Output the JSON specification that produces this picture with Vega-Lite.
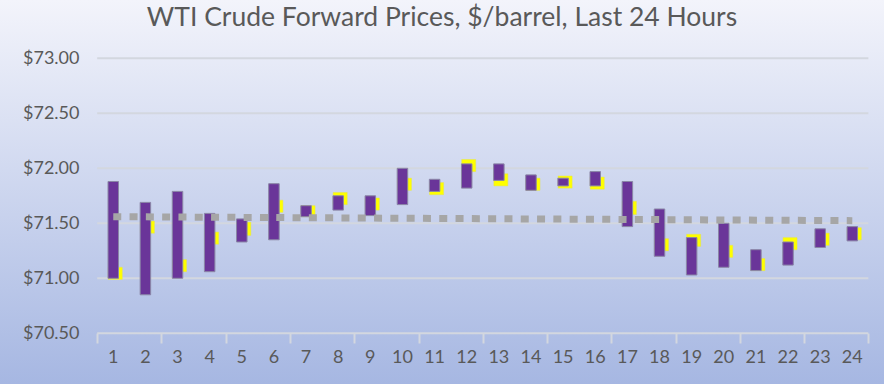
{
  "$schema": "https://vega.github.io/schema/vega-lite/v6.json",
  "width": 884,
  "height": 384,
  "autosize": "none",
  "padding": 0,
  "background": "#c9d3ec",
  "title": {
    "text": "WTI Crude Forward Prices, $/barrel, Last 24 Hours",
    "font": "Lato",
    "fontSize": 26.5,
    "fontWeight": "normal",
    "color": "#595959",
    "anchor": "middle",
    "offset": -31
  },
  "config": {
    "view": {
      "stroke": null,
      "fill": {
        "gradient": "linear",
        "x1": 0, "y1": 0, "x2": 0, "y2": 1,
        "stops": [
          {"offset": 0, "color": "#f3f4fb"},
          {"offset": 1, "color": "#a6b7e2"}
        ]
      }
    },
    "axis": {"labelFont": "Lato", "labelColor": "#595959", "labelFontSize": 18}
  },
  "datasets": {
    "bars": [
      {"hour": 1, "low": 71.00, "high": 71.88, "ylow": 70.99, "yhigh": 71.10},
      {"hour": 2, "low": 70.85, "high": 71.69, "ylow": 71.41, "yhigh": 71.52},
      {"hour": 3, "low": 71.00, "high": 71.79, "ylow": 71.06, "yhigh": 71.17},
      {"hour": 4, "low": 71.06, "high": 71.59, "ylow": 71.31, "yhigh": 71.42},
      {"hour": 5, "low": 71.33, "high": 71.54, "ylow": 71.39, "yhigh": 71.51},
      {"hour": 6, "low": 71.35, "high": 71.86, "ylow": 71.60, "yhigh": 71.71},
      {"hour": 7, "low": 71.56, "high": 71.66, "ylow": 71.56, "yhigh": 71.66},
      {"hour": 8, "low": 71.62, "high": 71.75, "ylow": 71.67, "yhigh": 71.78},
      {"hour": 9, "low": 71.57, "high": 71.75, "ylow": 71.62, "yhigh": 71.73},
      {"hour": 10, "low": 71.67, "high": 72.00, "ylow": 71.80, "yhigh": 71.91},
      {"hour": 11, "low": 71.79, "high": 71.90, "ylow": 71.76, "yhigh": 71.87},
      {"hour": 12, "low": 71.82, "high": 72.04, "ylow": 71.97, "yhigh": 72.08},
      {"hour": 13, "low": 71.89, "high": 72.04, "ylow": 71.84, "yhigh": 71.95},
      {"hour": 14, "low": 71.80, "high": 71.94, "ylow": 71.80, "yhigh": 71.91},
      {"hour": 15, "low": 71.84, "high": 71.91, "ylow": 71.82, "yhigh": 71.93},
      {"hour": 16, "low": 71.84, "high": 71.97, "ylow": 71.81, "yhigh": 71.92},
      {"hour": 17, "low": 71.47, "high": 71.88, "ylow": 71.58, "yhigh": 71.70},
      {"hour": 18, "low": 71.20, "high": 71.63, "ylow": 71.25, "yhigh": 71.36},
      {"hour": 19, "low": 71.03, "high": 71.37, "ylow": 71.29, "yhigh": 71.40},
      {"hour": 20, "low": 71.10, "high": 71.50, "ylow": 71.19, "yhigh": 71.30},
      {"hour": 21, "low": 71.07, "high": 71.26, "ylow": 71.07, "yhigh": 71.18},
      {"hour": 22, "low": 71.12, "high": 71.33, "ylow": 71.26, "yhigh": 71.37},
      {"hour": 23, "low": 71.28, "high": 71.45, "ylow": 71.30, "yhigh": 71.41},
      {"hour": 24, "low": 71.34, "high": 71.47, "ylow": 71.35, "yhigh": 71.46}
    ],
    "grid": [
      {"v": 70.5}, {"v": 71.0}, {"v": 71.5}, {"v": 72.0}, {"v": 72.5}, {"v": 73.0}
    ],
    "trend": [
      {"hour": 1, "trend": 71.56},
      {"hour": 24, "trend": 71.524}
    ]
  },
  "layer": [
    {
      "data": {"name": "grid"},
      "mark": {"type": "rule", "color": "#d3d7df", "strokeWidth": 2},
      "encoding": {
        "x": {"datum": 0.5, "type": "quantitative",
              "scale": {"domain": [-2.3692, 24.8308], "nice": false, "zero": false},
              "axis": {
                "orient": "bottom", "offset": -51,
                "values": [0.5, 1.5, 2.5, 3.5, 4.5, 5.5, 6.5, 7.5, 8.5, 9.5, 10.5, 11.5, 12.5, 13.5, 14.5, 15.5, 16.5, 17.5, 18.5, 19.5, 20.5, 21.5, 22.5, 23.5, 24.5],
                "labels": false,
                "tickSize": 10, "tickColor": "#d3d7df", "tickWidth": 2,
                "domain": false, "grid": false, "title": null
              }},
        "x2": {"datum": 24.5},
        "y": {"field": "v", "type": "quantitative",
              "scale": {"domain": [70.039, 73.53], "nice": false, "zero": false},
              "axis": {
                "orient": "left", "offset": -87,
                "values": [70.5, 71, 71.5, 72, 72.5, 73],
                "format": "$.2f", "ticks": false, "domain": false, "grid": false,
                "labelPadding": 8, "title": null
              }}
      }
    },
    {
      "data": {"name": "bars"},
      "mark": {"type": "bar", "width": 14, "xOffset": 2, "color": "#ffff00", "stroke": "#e6e64a", "strokeWidth": 0.5},
      "encoding": {
        "x": {"field": "hour", "type": "quantitative"},
        "y": {"field": "ylow", "type": "quantitative"},
        "y2": {"field": "yhigh"}
      }
    },
    {
      "data": {"name": "bars"},
      "mark": {"type": "bar", "width": 10.5, "color": "#6a3599", "stroke": "#8a86a6", "strokeWidth": 1},
      "encoding": {
        "x": {"field": "hour", "type": "quantitative"},
        "y": {"field": "low", "type": "quantitative"},
        "y2": {"field": "high"}
      }
    },
    {
      "data": {"name": "trend"},
      "mark": {"type": "line", "color": "#a6a6a6", "strokeWidth": 7, "strokeDash": [8, 8.3], "strokeCap": "butt"},
      "encoding": {
        "x": {"field": "hour", "type": "quantitative"},
        "y": {"field": "trend", "type": "quantitative"}
      }
    },
    {
      "data": {"name": "bars"},
      "mark": {"type": "text", "font": "Lato", "fontSize": 18, "color": "#595959", "baseline": "middle", "align": "center", "dy": 25},
      "encoding": {
        "x": {"field": "hour", "type": "quantitative"},
        "y": {"datum": 70.5, "type": "quantitative"},
        "text": {"field": "hour", "type": "quantitative", "format": "d"}
      }
    }
  ]
}
